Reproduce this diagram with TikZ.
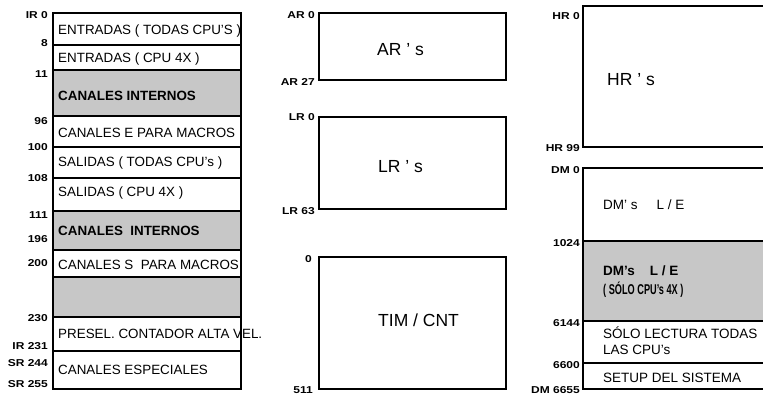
\documentclass[tikz,border=0pt]{standalone}
\usepackage{fontspec}
\usepackage{graphicx}
\setmainfont{Liberation Sans}
\newcommand\lbtxt[1]{\scalebox{1.2}[1]{#1}}
\newcommand\sqz[1]{\scalebox{0.68}[1.05]{#1}}
\tikzset{
 lbl/.style={anchor=east,inner sep=0,font=\bfseries\fontsize{10}{11}\selectfont},
 txt/.style={anchor=west,inner sep=0,font=\fontsize{13.4}{14}\selectfont},
 btxt/.style={anchor=west,inner sep=0,font=\bfseries\fontsize{13.4}{14}\selectfont},
 big/.style={anchor=west,inner sep=0,font=\fontsize{17.5}{18}\selectfont},
 rtxt/.style={anchor=west,inner sep=0,font=\fontsize{13.5}{14}\selectfont},
 rbtxt/.style={anchor=west,inner sep=0,font=\bfseries\fontsize{13.5}{14}\selectfont},
 mbox/.style={draw,line width=1.3pt},
 shade/.style={fill=black!22},
}
\begin{document}
\begin{tikzpicture}[x=1pt,y=-1pt]
\useasboundingbox (0,0) rectangle (763,396);
\clip (0,0) rectangle (763,396);
% ---------------- left column ----------------
\fill[shade] (53,70) rectangle (241,116);
\fill[shade] (53,211) rectangle (241,250);
\fill[shade] (53,277) rectangle (241,317);
\draw[mbox] (53,13) rectangle (241,389);
\foreach \y in {45,70,116,147,178,211,250,277,317,351}
  \draw[mbox] (53,\y) -- (241,\y);
\node[txt]  (e1) at (58,31)  {ENTRADAS ( TODAS CPU'S )};
\node[txt]  (e2) at (58,59)  {ENTRADAS ( CPU 4X )};
\node[btxt] (c1) at (58,96)  {CANALES INTERNOS};
\node[txt]  (c2) at (58,133) {CANALES E PARA MACROS};
\node[txt]  (s1) at (58,163) {SALIDAS ( TODAS CPU's )};
\node[txt]  (s2) at (58,193) {SALIDAS ( CPU 4X )};
\node[btxt] (c3) at (58,231) {CANALES\ \ INTERNOS};
\node[txt]  (c4) at (58,265) {CANALES S\ \ PARA MACROS};
\node[txt]  (p1) at (58,334) {PRESEL. CONTADOR ALTA VEL.};
\node[txt]  (c5) at (58,370) {CANALES ESPECIALES};
\node[lbl] (l0)  at (48,15)  {\lbtxt{IR 0}};
\node[lbl] (l1)  at (48,43)  {\lbtxt{8}};
\node[lbl] (l2)  at (48,74)  {\lbtxt{11}};
\node[lbl] (l3)  at (48,121) {\lbtxt{96}};
\node[lbl] (l4)  at (48,147) {\lbtxt{100}};
\node[lbl] (l5)  at (48,178) {\lbtxt{108}};
\node[lbl] (l6)  at (48,215) {\lbtxt{111}};
\node[lbl] (l7)  at (48,239) {\lbtxt{196}};
\node[lbl] (l8)  at (48,263) {\lbtxt{200}};
\node[lbl] (l9)  at (48,318) {\lbtxt{230}};
\node[lbl] (l10) at (48,346) {\lbtxt{IR 231}};
\node[lbl] (l11) at (48,363) {\lbtxt{SR 244}};
\node[lbl] (l12) at (48,384) {\lbtxt{SR 255}};
% ---------------- middle column ----------------
\draw[mbox] (319,13) rectangle (506,80);
\draw[mbox] (319,117) rectangle (506,209);
\draw[mbox] (319,257) rectangle (506,389);
\node[big] (ar) at (377,50)  {AR ' s};
\node[big] (lr) at (378,167) {LR ' s};
\node[big] (tc) at (378,320) {TIM / CNT};
\node[lbl] (m0) at (315,15)  {\lbtxt{AR 0}};
\node[lbl] (m1) at (315,82)  {\lbtxt{AR 27}};
\node[lbl] (m2) at (315,117) {\lbtxt{LR 0}};
\node[lbl] (m3) at (315,211) {\lbtxt{LR 63}};
\node[lbl] (m4) at (312,259) {\lbtxt{0}};
\node[lbl] (m5) at (313,390) {\lbtxt{511}};
% ---------------- right column ----------------
\draw[mbox] (583,6) rectangle (780,147);
\fill[shade] (583,241) rectangle (780,321);
\draw[mbox] (583,168) rectangle (780,389);
\foreach \y in {241,321,363}
  \draw[mbox] (583,\y) -- (780,\y);
\node[big]   (hr) at (607,80)  {HR ' s};
\node[rtxt]  (d1) at (603,205) {DM' s\hspace{1.4em}L / E};
\node[rbtxt] (d2) at (603,271) {DM's\hspace{1.1em}L / E};
\node[rbtxt] (d3) at (603,290) {\sqz{( SÓLO CPU's 4X )}};
\node[rtxt]  (d4) at (603,333) {SÓLO LECTURA TODAS};
\node[rtxt]  (d5) at (603,350) {LAS CPU's};
\node[rtxt]  (d6) at (603,378) {SETUP DEL SISTEMA};
\node[lbl] (r0) at (580,16)  {\lbtxt{HR 0}};
\node[lbl] (r1) at (580,148) {\lbtxt{HR 99}};
\node[lbl] (r2) at (580,170) {\lbtxt{DM 0}};
\node[lbl] (r3) at (580,243) {\lbtxt{1024}};
\node[lbl] (r4) at (580,323) {\lbtxt{6144}};
\node[lbl] (r5) at (580,365) {\lbtxt{6600}};
\node[lbl] (r6) at (580,390) {\lbtxt{DM 6655}};
\end{tikzpicture}
\end{document}
